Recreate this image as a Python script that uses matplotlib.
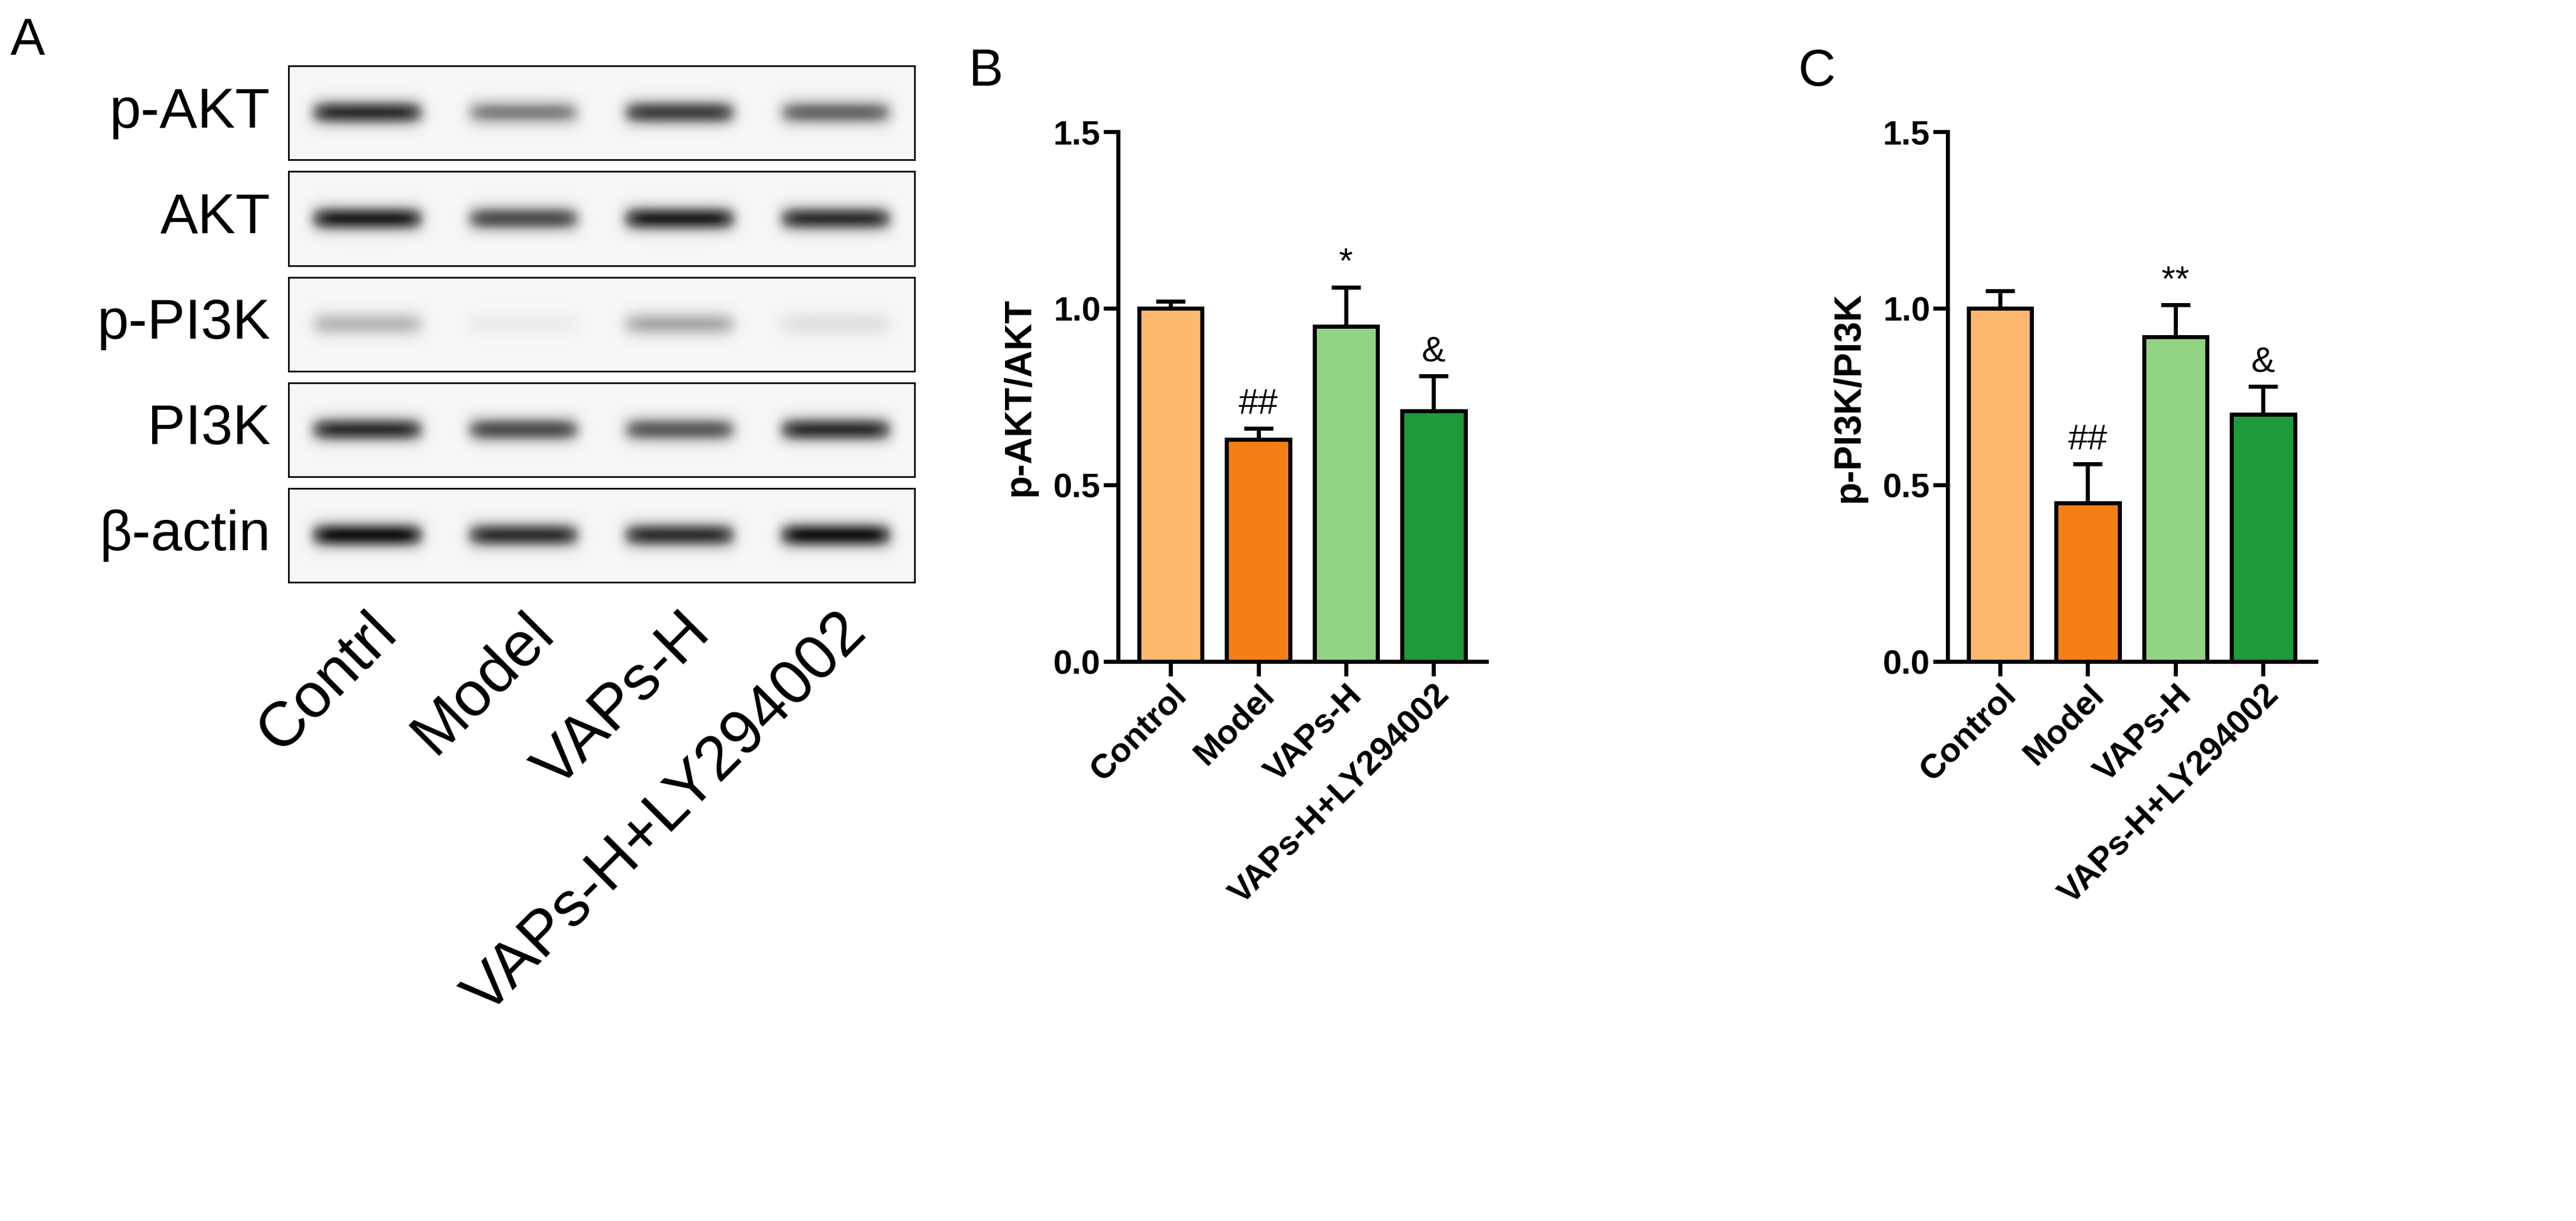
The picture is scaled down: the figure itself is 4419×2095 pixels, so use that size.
import numpy as np
import matplotlib.pyplot as plt

plt.rcParams['font.family'] = ['Liberation Sans', 'DejaVu Sans']

groups = ["Control", "Model", "VAPs-H", "VAPs-H+LY294002"]
blot_lanes = ["Contrl", "Model", "VAPs-H", "VAPs-H+LY294002"]
blot_rows = ["p-AKT", "AKT", "p-PI3K", "PI3K", "β-actin"]
# relative band darkness per lane, read by eye
band_strength = [
    [0.85, 0.55, 0.80, 0.65],
    [0.90, 0.75, 0.90, 0.85],
    [0.35, 0.08, 0.40, 0.15],
    [0.85, 0.75, 0.70, 0.85],
    [0.95, 0.85, 0.85, 0.95],
]
akt_mean = [1.00, 0.63, 0.95, 0.71]
akt_err = [0.02, 0.03, 0.11, 0.10]
akt_marks = ["", "##", "*", "&"]
pi3k_mean = [1.00, 0.45, 0.92, 0.70]
pi3k_err = [0.05, 0.11, 0.09, 0.08]
pi3k_marks = ["", "##", "**", "&"]
colors = ["#FDB96E", "#F57F17", "#92D384", "#1E9A3A"]

fig = plt.figure(figsize=(44.19, 20.95), dpi=100)

# panel A: blot strips
n_rows = len(blot_rows)
strip_h = 0.077
gap = 0.0095
top = 0.946
left, width = 0.112, 0.243
xs = np.linspace(0, 4, 400)
ys = np.linspace(-1, 1, 60)
for i, (name, strengths) in enumerate(zip(blot_rows, band_strength)):
    y0 = top - (i + 1) * strip_h - i * gap
    ax = fig.add_axes([left, y0, width, strip_h])
    img = np.zeros((len(ys), len(xs)))
    for lane, s in enumerate(strengths):
        px = np.exp(-((xs - (lane + 0.5)) / 0.36) ** 8)
        py = np.exp(-((ys) / 0.28) ** 2)
        img += s * np.outer(py, px)
    img = 0.08 + img
    ax.imshow(img, cmap="Greys", vmin=0, vmax=1.1, aspect="auto",
              extent=[0, 4, -1, 1])
    ax.set_xticks([])
    ax.set_yticks([])
    for sp in ax.spines.values():
        sp.set_linewidth(2)
    fig.text(left - 0.007, y0 + strip_h / 2, name, ha="right", va="center",
             fontsize=70)
    if i == n_rows - 1:
        ax.set_xticks(np.arange(4) + 0.5)
        ax.set_xticklabels(blot_lanes, rotation=45, ha="right",
                           rotation_mode="anchor", fontsize=78)
        ax.tick_params(length=0, pad=25)
fig.text(0.004, 0.955, "A", fontsize=64)


def bar_panel(rect, letter, means, errs, marks, ylabel):
    ax = fig.add_axes(rect)
    x = np.arange(len(means))
    ax.bar(x, means, width=0.72, color=colors, edgecolor="black", linewidth=5,
           zorder=2)
    ax.errorbar(x, means, yerr=[np.zeros(len(errs)), errs], fmt="none",
                ecolor="black", elinewidth=5, capsize=18, capthick=5, zorder=1)
    for xi, m, e, t in zip(x, means, errs, marks):
        if t:
            ax.text(xi, m + e + 0.02, t, ha="center", va="bottom", fontsize=44)
    ax.set_ylim(0, 1.5)
    ax.set_xlim(-0.6, 3.6)
    ax.set_yticks([0, 0.5, 1.0, 1.5])
    ax.set_yticklabels(["0.0", "0.5", "1.0", "1.5"], fontsize=42,
                       fontweight="bold")
    ax.set_xticks(x)
    ax.set_xticklabels(groups, rotation=45, ha="right", rotation_mode="anchor",
                       fontsize=42, fontweight="bold")
    ax.set_ylabel(ylabel, fontsize=46, fontweight="bold", labelpad=20)
    ax.spines[["top", "right"]].set_visible(False)
    ax.spines["left"].set_linewidth(5)
    ax.spines["bottom"].set_linewidth(5)
    ax.tick_params(axis="y", width=5, length=18)
    ax.tick_params(axis="x", width=5, length=18)
    fig.text(rect[0] - 0.058, 0.93, letter, fontsize=64)


bar_panel([0.434, 0.458, 0.143, 0.434], "B", akt_mean, akt_err, akt_marks,
          "p-AKT/AKT")
bar_panel([0.756, 0.458, 0.143, 0.434], "C", pi3k_mean, pi3k_err, pi3k_marks,
          "p-PI3K/PI3K")

fig.savefig("out.png", dpi=100)
